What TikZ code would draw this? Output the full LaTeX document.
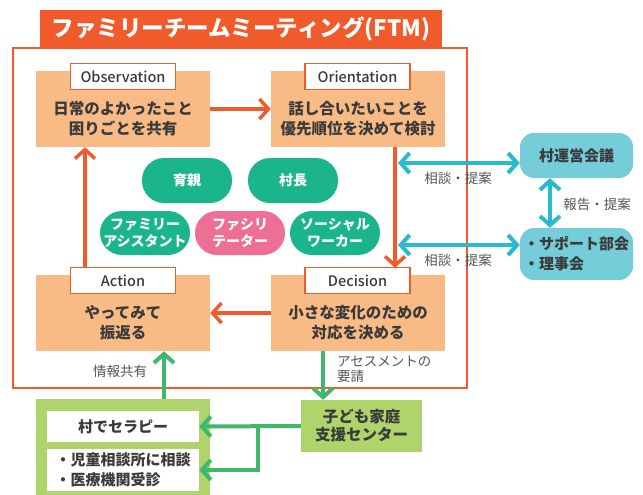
\documentclass[tikz,border=0pt]{standalone}
\usepackage{fontspec}
\setmainfont{Noto Sans CJK JP}
\newfontfamily\jpmed{Noto Sans CJK JP Medium}
\usetikzlibrary{arrows.meta}
\definecolor{org}{HTML}{F15A2B}
\definecolor{peach}{HTML}{F9BB85}
\definecolor{tealc}{HTML}{1BB58B}
\definecolor{pinkc}{HTML}{EE6F96}
\definecolor{cyanbox}{HTML}{76CDDA}
\definecolor{cyanarr}{HTML}{27BBCF}
\definecolor{lgreen}{HTML}{AFD46B}
\definecolor{garr}{HTML}{3FB76C}
\definecolor{txt}{HTML}{3A3A3A}
\definecolor{gtxt}{HTML}{555555}
\tikzset{
  peachbox/.style={fill=peach, minimum width=174pt, minimum height=76pt, inner sep=0pt},
  maintext/.style={text=txt, font=\fontsize{15.5}{20}\selectfont\bfseries, align=center},
  stagelabel/.style={fill=white, draw=org, line width=1.5pt, minimum width=105pt, minimum height=26pt, inner sep=0pt, text=txt, font=\fontsize{14.5}{16}\selectfont\jpmed},
  pill/.style={fill=tealc, rounded corners=22pt, minimum width=90pt, minimum height=45pt, inner sep=0pt, text=white, font=\fontsize{14}{17}\selectfont\bfseries, align=center},
  cbox/.style={fill=cyanbox, rounded corners=14pt, minimum width=113pt, inner sep=0pt, text=txt, font=\fontsize{15}{20}\selectfont\bfseries},
  orarrow/.style={draw=org, line width=3.5pt, -{Straight Barb[length=9pt, width=20pt]}},
  cyarrow/.style={draw=cyanarr, line width=4pt, {Straight Barb[length=9pt, width=20pt]}-{Straight Barb[length=9pt, width=20pt]}},
  grarrow/.style={draw=garr, line width=4pt, -{Straight Barb[length=9pt, width=20pt]}},
  smalltext/.style={text=gtxt, font=\fontsize{13.5}{15}\selectfont, inner sep=0pt},
  whitebox/.style={fill=white, minimum width=152pt, inner sep=0pt, text=txt, font=\fontsize{15}{20}\selectfont\bfseries},
}
\begin{document}
\begin{tikzpicture}[x=1pt,y=-1pt]
\useasboundingbox (0,0) rectangle (643,495);
% frame and title
\node[draw=org, line width=2pt, minimum width=454pt, minimum height=340pt, inner sep=0pt] (ftm) at (240,218) {};
\node[fill=org, minimum width=402pt, minimum height=37pt, inner sep=0pt, text=white, font=\fontsize{22.5}{24}\selectfont\bfseries] (title) at (241,28.5) {ファミリーチームミーティング(FTM)};
% peach boxes
\node[peachbox] (obs) at (123,109) {};
\node[peachbox] (ori) at (358,109) {};
\node[peachbox] (act) at (123,313) {};
\node[peachbox] (dec) at (358,313) {};
\node[maintext] (obsT) at (123,119) {日常のよかったこと\\困りごとを共有};
\node[maintext] (oriT) at (358,119) {話し合いたいことを\\優先順位を決めて検討};
\node[maintext] (actT) at (123,323) {やってみて\\振返る};
\node[maintext] (decT) at (358,323) {小さな変化のための\\対応を決める};
\node[stagelabel] (obsL) at (123,76.5) {Observation};
\node[stagelabel] (oriL) at (357.5,76.5) {Orientation};
\node[stagelabel] (actL) at (123,280.5) {Action};
\node[stagelabel] (decL) at (357.5,280.5) {Decision};
% pills
\node[pill] (ikuoya) at (187,180.5) {育親};
\node[pill] (soncho) at (293,180.5) {村長};
\node[pill, minimum height=44pt] (fa) at (145,233) {ファミリー\\アシスタント};
\node[pill, minimum height=44pt, fill=pinkc] (fasi) at (240,233) {ファシリ\\テーター};
\node[pill, minimum height=44pt] (sw) at (335,233) {ソーシャル\\ワーカー};
% cyan boxes
\node[cbox, minimum height=45pt] (unei) at (576.5,155.5) {村運営会議};
\node[cbox, minimum height=52pt, align=left] (sup) at (576.5,254) {・サポート部会\\・理事会};
% green boxes
\node[fill=lgreen, minimum width=121pt, minimum height=52pt, inner sep=0pt, text=txt, font=\fontsize{15.5}{18}\selectfont\bfseries, align=center] (kodomo) at (361.5,426) {子ども家庭\\支援センター};
\node[fill=lgreen, minimum width=174pt, minimum height=96pt, inner sep=0pt] (gbox) at (123,447) {};
\node[whitebox, minimum height=31pt] (w1) at (123,426.5) {村でセラピー};
\node[whitebox, minimum height=42pt, align=left] (w2) at (123,470) {・児童相談所に相談\\・医療機関受診};
% helper coordinates
\coordinate (o1) at (395,0);
\coordinate (o2) at (85,0);
\coordinate (g1) at (323,0);
\coordinate (g2) at (164,0);
\coordinate (v) at (550,0);
\coordinate (c1) at (398,163);
\coordinate (c2) at (398,245);
\coordinate (b) at (258,426);
% orange arrows
\draw[orarrow] (obs.east) -- (ori.west);
\draw[orarrow] (ori.south -| o1) -- ([yshift=-1pt]decL.north -| o1);
\draw[orarrow] (dec.west) -- (act.east);
\draw[orarrow] (actL.north -| o2) -- (obs.south -| o2);
% cyan arrows
\draw[cyarrow] (c1) -- (c1 -| unei.west);
\draw[cyarrow] (c2) -- (c2 -| sup.west);
\draw[cyarrow] (unei.south -| v) -- (sup.north -| v);
% green arrows
\draw[grarrow] (dec.south -| g1) -- (kodomo.north -| g1);
\draw[grarrow] (gbox.north -| g2) -- (act.south -| g2);
\draw[grarrow] (kodomo.west) -- (w1.east);
\draw[grarrow] (b) |- (w2.east);
% labels
\node[smalltext] (l1) at (458,178) {相談・提案};
\node[smalltext] (l2) at (458,260) {相談・提案};
\node[smalltext] (l3) at (597,204) {報告・提案};
\node[smalltext] (l4) at (120,371) {情報共有};
\node[smalltext, anchor=west, align=left] (l5) at (337,369.5) {アセスメントの\\要請};
\end{tikzpicture}
\end{document}
